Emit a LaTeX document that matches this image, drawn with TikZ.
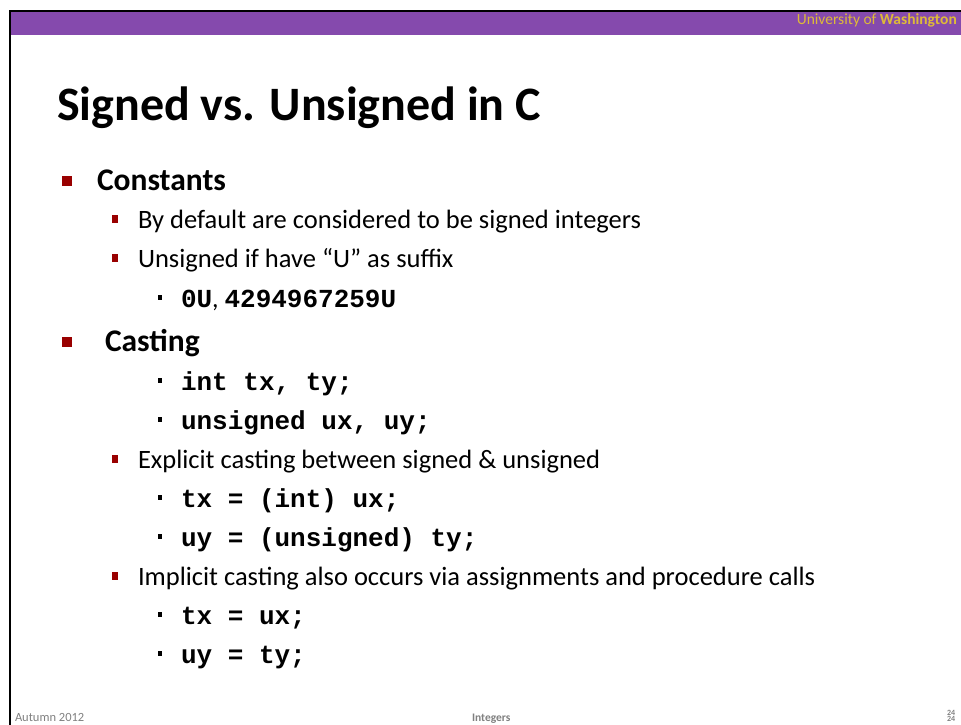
\documentclass[tikz,border=0pt]{standalone}
\usepackage{fontspec}
\setmainfont{Carlito}
\newfontfamily\codefont{Liberation Mono}
\definecolor{uwpurple}{RGB}{133,74,173}
\definecolor{uwgold}{RGB}{222,186,56}
\definecolor{bulletred}{RGB}{153,0,0}
\definecolor{footgray}{RGB}{128,128,128}
\tikzset{
  txt/.style={anchor=base west, inner sep=0pt, outer sep=0pt},
  lvlone/.style={txt, font=\fontsize{31.5}{36}\selectfont\bfseries},
  lvltwo/.style={txt, font=\fontsize{26.5}{30}\selectfont},
  lvlcode/.style={txt, font=\fontsize{26}{30}\selectfont},
  foot/.style={txt, text=footgray},
  pagenum/.style={foot, font=\fontsize{8}{9}\selectfont\bfseries, text height=5.5pt, text depth=0pt},
}
\newcommand{\cd}[1]{{\codefont\bfseries #1}}
% square bullets, placed relative to a text baseline
\newcommand{\bulone}[2]{\fill[bulletred] (#1,#2-14) rectangle ++(10,10);}
\newcommand{\bultwo}[2]{\fill[bulletred] (#1,#2-13) rectangle ++(6,8);}
\newcommand{\bulthree}[2]{\fill[black] (#1,#2-12) rectangle ++(4,5);}
\begin{document}
\begin{tikzpicture}[x=1pt,y=-1pt]
\useasboundingbox (0,0) rectangle (961,725);
\fill[white] (0,0) rectangle (961,725);

% header bar and frame
\fill[uwpurple] (11,12) rectangle (961,35);
\fill[black] (9,10) rectangle (961,12);
\fill[black] (9,10) rectangle (11,725);
\node[anchor=base east, inner sep=0pt, text=uwgold, font=\fontsize{15.5}{18}\selectfont] (uw) at (957,25) {University of \textbf{Washington}};

% title
\node[txt, font=\fontsize{48}{56}\selectfont\bfseries] (title) at (57,120) {Signed vs. Unsigned in C};

% Constants
\bulone{62}{190}
\node[lvlone] (const) at (97,190) {Constants};
\bultwo{112}{228}
\node[lvltwo] (cdef) at (138,228) {By default are considered to be signed integers};
\bultwo{112}{267}
\node[lvltwo] (cuns) at (138,267) {Unsigned if have “U” as suffix};
\bulthree{158}{307}
\node[lvlcode] (cex) at (181,307) {\cd{0U}, \cd{4294967259U}};

% Casting
\bulone{62}{351}
\node[lvlone] (cast) at (105,351) {Casting};
\bulthree{158}{390}
\node[lvlcode] (decl1) at (181,390) {\cd{int tx, ty;}};
\bulthree{158}{429}
\node[lvlcode] (decl2) at (181,429) {\cd{unsigned ux, uy;}};
\bultwo{112}{468}
\node[lvltwo] (expl) at (138,468) {Explicit casting between signed \& unsigned};
\bulthree{158}{507}
\node[lvlcode] (ex1) at (181,507) {\cd{tx = (int) ux;}};
\bulthree{158}{546}
\node[lvlcode] (ex2) at (181,546) {\cd{uy = (unsigned) ty;}};
\bultwo{112}{585}
\node[lvltwo] (impl) at (138,585) {Implicit casting also occurs via assignments and procedure calls};
\bulthree{158}{624}
\node[lvlcode] (im1) at (181,624) {\cd{tx = ux;}};
\bulthree{158}{663}
\node[lvlcode] (im2) at (181,663) {\cd{uy = ty;}};

% footer
\node[foot, font=\fontsize{12.5}{14}\selectfont] (term) at (15,721) {Autumn 2012};
\node[foot, font=\fontsize{11.5}{14}\selectfont\bfseries] (topic) at (472,721) {Integers};
\node[pagenum] (pgA) at (947,715) {24};
\node[pagenum] (pgB) at (947,721.5) {24};
\end{tikzpicture}
\end{document}
